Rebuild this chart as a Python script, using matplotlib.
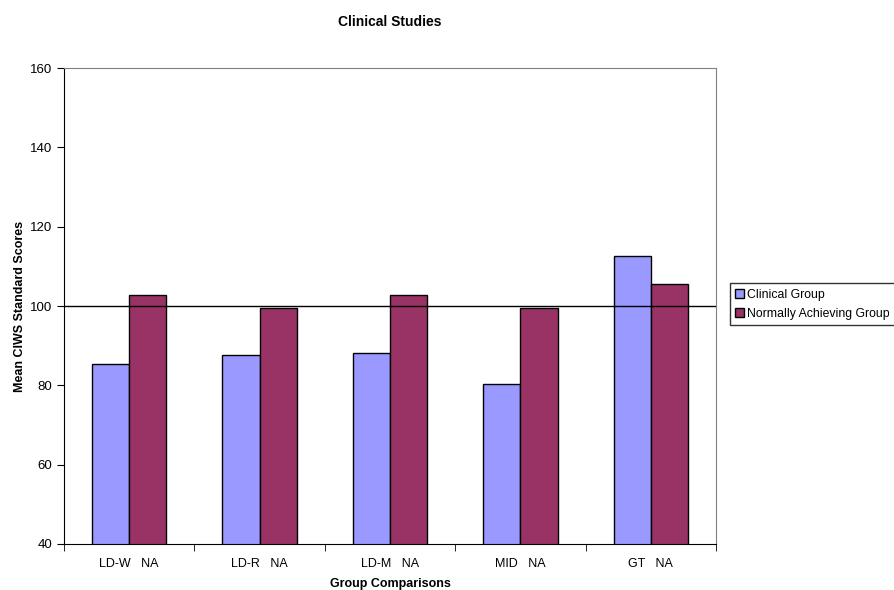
import numpy as np
import matplotlib
matplotlib.use("Agg")
import matplotlib.pyplot as plt

plt.rcParams['font.family'] = ['Liberation Sans', 'DejaVu Sans']

# Data
groups = ["LD-W   NA", "LD-R   NA", "LD-M   NA", "MID   NA", "GT   NA"]
clinical = [85.4, 87.6, 88.1, 80.3, 112.6]
normal = [102.9, 99.5, 102.7, 99.5, 105.5]
series_names = ["Clinical Group", "Normally Achieving Group"]

fig = plt.figure(figsize=(8.95, 5.9), dpi=100)
ax = fig.add_axes([0.0715, 0.078, 0.7285, 0.8067])

x = np.arange(len(groups))
w = 0.286
ax.bar(x - w / 2, clinical, w, bottom=0, color="#9999FF", edgecolor="black",
       linewidth=1, label=series_names[0], zorder=2)
ax.bar(x + w / 2, normal, w, bottom=0, color="#993366", edgecolor="black",
       linewidth=1, label=series_names[1], zorder=2)
ax.axhline(100, color="black", linewidth=1, zorder=3)

ax.set_ylim(40, 160)
ax.set_xlim(-0.5, len(groups) - 0.5)
ax.set_yticks(np.arange(40, 161, 20))
ax.set_xticks(x)
ax.set_xticklabels(groups)
ax.set_xticks(np.arange(-0.5, len(groups), 1), minor=True)
ax.tick_params(axis="x", which="major", length=0, pad=10, labelsize=9)
ax.tick_params(axis="x", which="minor", length=5, direction="out")
ax.tick_params(axis="y", length=5, direction="out", labelsize=9.5)

for s in ["top", "right"]:
    ax.spines[s].set_color("#808080")
for s in ["left", "bottom"]:
    ax.spines[s].set_color("black")

ax.set_title("Clinical Studies", fontsize=10, fontweight="bold", pad=30)
ax.set_ylabel("Mean CIWS Standard Scores", fontsize=9, fontweight="bold", labelpad=3)
ax.set_xlabel("Group Comparisons", fontsize=9, fontweight="bold", labelpad=6)

leg = ax.legend(loc="upper left", bbox_to_anchor=(1.021, 0.548), frameon=True,
                fancybox=False, edgecolor="black", fontsize=8.8,
                handlelength=0.7, handleheight=0.7, handletextpad=0.25,
                borderpad=0.45, labelspacing=0.6, borderaxespad=0)
leg.get_frame().set_linewidth(1)

fig.savefig("out.png", dpi=100)
